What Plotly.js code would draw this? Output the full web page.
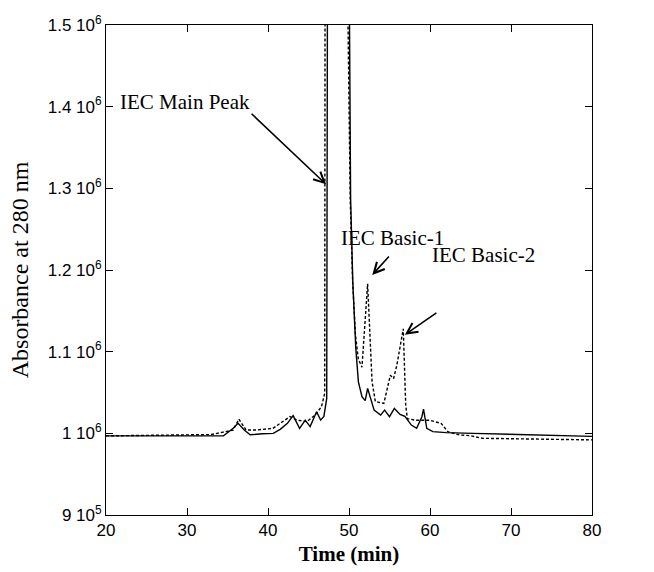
<!DOCTYPE html>
<html>
<head>
<meta charset="utf-8">
<script src="https://cdn.plot.ly/plotly-3.0.1.min.js"></script>
<style>html,body{margin:0;padding:0;background:#fff;}#chart{width:654px;height:572px;}</style>
</head>
<body>
<div id="chart"></div>
<script>
// Solid trace (time in min, absorbance)
const timeSolid = [20, 28, 34.5, 35.7, 36.3, 37.1, 37.8, 39.3, 40.65, 41.5, 42.4, 43.1, 43.9, 44.6, 45.2, 46.0, 46.5, 46.9, 47.25, 47.35, 48.6, 50.0, 50.05, 50.1, 50.2, 50.47, 50.84, 51.16, 51.6, 52.0, 52.3, 53.1, 53.9, 54.4, 55.0, 55.6, 56.3, 56.9, 57.7, 58.35, 59.0, 59.2, 59.6, 60.35, 62.0, 65.3, 72.3, 80];
const absSolid = [996900, 996900, 996900, 1006100, 1012200, 1003700, 998200, 999400, 1000000, 1004900, 1012200, 1021600, 1006100, 1016200, 1008200, 1026500, 1016200, 1020700, 1042700, 1600000, 2600000, 1600000, 1500000, 1388000, 1287000, 1185000, 1104000, 1063000, 1045000, 1040000, 1055000, 1028400, 1022300, 1028400, 1020400, 1030500, 1023200, 1020700, 1010100, 1006100, 1020400, 1029600, 1006100, 1002100, 1000900, 1000000, 998200, 996300];
// Dotted trace
const timeDotted = [20, 28, 33, 35.7, 36.4, 37.3, 38.5, 40.6, 41.9, 42.7, 43.6, 44.8, 45.8, 46.6, 47.0, 47.05, 48.5, 49.95, 50.05, 50.15, 50.45, 50.8, 51.15, 51.6, 52.3, 52.85, 53.25, 54.3, 55.1, 55.5, 55.9, 56.7, 57.0, 57.2, 58.2, 60.0, 61.4, 62.2, 63.7, 64.9, 66.5, 80];
const absDotted = [996900, 997500, 998500, 1004000, 1017400, 1004000, 1004000, 1006100, 1014300, 1020400, 1016200, 1014300, 1022300, 1032600, 1048800, 1600000, 2600000, 1500000, 1390000, 1287000, 1185000, 1120000, 1091000, 1081000, 1183000, 1063000, 1039000, 1036600, 1071000, 1067000, 1083000, 1128000, 1035000, 1018000, 1016000, 1016000, 1012000, 1002000, 997900, 997200, 993900, 992000];
// Axis ticks
const xTicks = [20, 30, 40, 50, 60, 70, 80];
const yTicks = [900000, 1000000, 1100000, 1200000, 1300000, 1400000, 1500000];
const yTickText = ["9 10<sup>5</sup>", "1 10<sup>6</sup>", "1.1 10<sup>6</sup>", "1.2 10<sup>6</sup>", "1.3 10<sup>6</sup>", "1.4 10<sup>6</sup>", "1.5 10<sup>6</sup>"];
// Annotation labels
const labelText = ["IEC Main Peak", "IEC Basic-1", "IEC Basic-2"];
const labelX = [29.8, 55.4, 66.6];
const labelY = [1406000, 1239000, 1218000];
const arrowTipX = [47.17, 52.87, 56.9];
const arrowTipY = [1304900, 1193900, 1120700];
const arrowAx = [-76, 18, 33];
const arrowAy = [-72, -20, -23];

const serif = "Liberation Serif, Times New Roman, serif";
const sans = "Liberation Sans, Arial, sans-serif";

const traces = [
  {x: timeSolid, y: absSolid, type: 'scatter', mode: 'lines', line: {color: '#000', width: 1.4}, hoverinfo: 'skip'},
  {x: timeDotted, y: absDotted, type: 'scatter', mode: 'lines', line: {color: '#000', width: 1.4, dash: '3px,2px'}, hoverinfo: 'skip'}
];

const annotations = [];
for (let i = 0; i < labelText.length; i++) {
  annotations.push({x: labelX[i], y: labelY[i], xref: 'x', yref: 'y', text: labelText[i], showarrow: false,
    font: {family: serif, size: 21, color: '#000'}});
  annotations.push({x: arrowTipX[i], y: arrowTipY[i], xref: 'x', yref: 'y', text: '', showarrow: true,
    ax: arrowAx[i], ay: arrowAy[i], arrowhead: 5, arrowsize: 1.3, arrowwidth: 1.6, arrowcolor: '#000', standoff: 0});
}

const layout = {
  width: 654, height: 572,
  margin: {l: 106, r: 62, t: 25, b: 57, pad: 0},
  paper_bgcolor: '#fff', plot_bgcolor: '#fff',
  showlegend: false,
  xaxis: {range: [20, 80], tickvals: xTicks, ticktext: xTicks.map(String), ticks: 'inside', ticklen: 7, tickwidth: 1,
    tickcolor: '#000', showline: true, linecolor: '#000', linewidth: 1, mirror: 'ticks', showgrid: false, zeroline: false,
    tickfont: {family: sans, size: 17, color: '#000'},
    title: {text: 'Time (min)', font: {family: serif, size: 21, color: '#000', weight: 'bold'}, standoff: 6}},
  yaxis: {range: [900000, 1500000], tickvals: yTicks, ticktext: yTickText, ticks: 'inside', ticklen: 7, tickwidth: 1,
    tickcolor: '#000', showline: true, linecolor: '#000', linewidth: 1, mirror: 'ticks', showgrid: false, zeroline: false,
    tickfont: {family: sans, size: 17, color: '#000'},
    title: {text: 'Absorbance at 280 nm', font: {family: serif, size: 24, color: '#000'}, standoff: 12}},
  annotations: annotations
};

Plotly.newPlot('chart', traces, layout, {staticPlot: true, displayModeBar: false});
</script>
</body>
</html>
